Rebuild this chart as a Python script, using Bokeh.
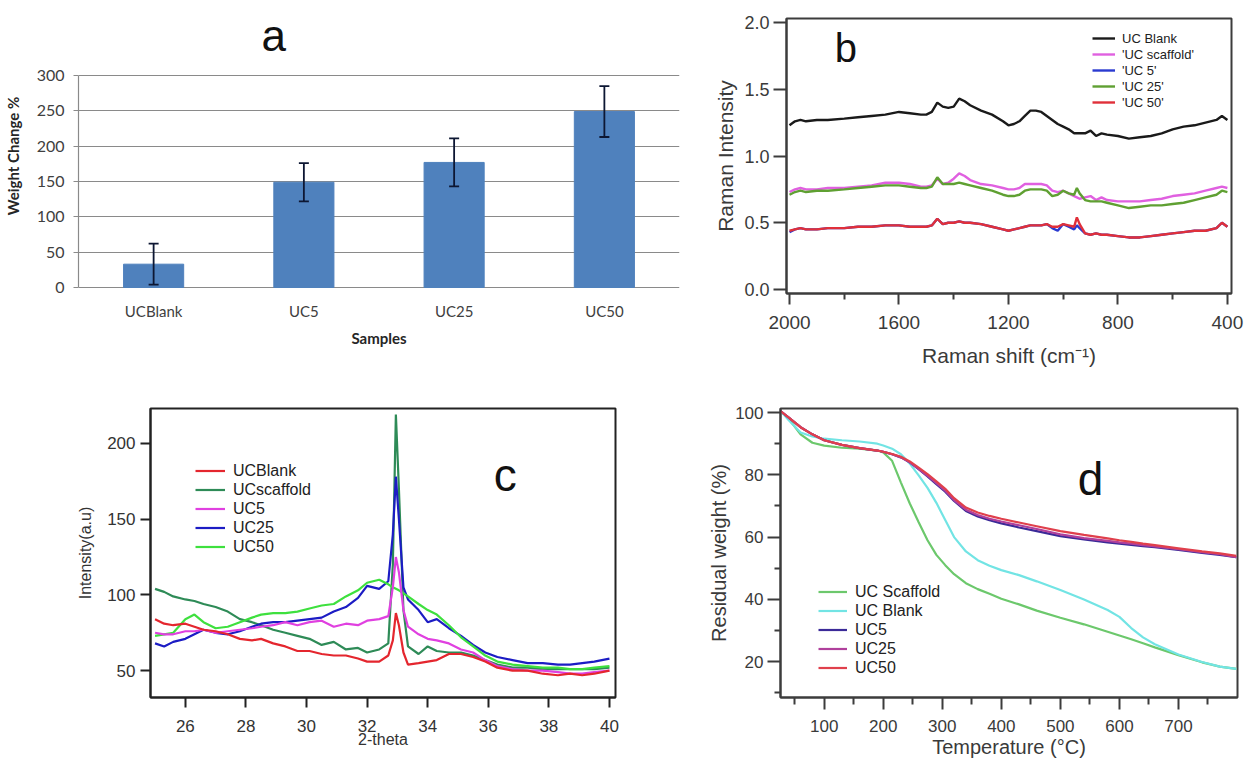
from bokeh.plotting import figure
from bokeh.models import (Range1d, FixedTicker, Whisker, TeeHead, ColumnDataSource,
                          Label, Legend, LegendItem, NumeralTickFormatter)
from bokeh.layouts import column, row
from bokeh.embed import file_html
from bokeh.resources import INLINE

# ---------------- data: panel a (swelling) ----------------
samples = ["UCBlank", "UC5", "UC25", "UC50"]
weight_change = [33, 149, 177, 249]
weight_err = [29, 27, 34, 36]

# ---------------- data: panel b (Raman) ----------------
raman_shift = [2000, 1980, 1960, 1940, 1900, 1860, 1800, 1750, 1700, 1650, 1600, 1560, 1520, 1500,
               1480, 1460, 1440, 1420, 1400, 1380, 1360, 1340, 1300, 1260, 1220, 1200, 1180, 1160,
               1140, 1120, 1100, 1080, 1060, 1040, 1020, 1000, 980, 960, 950, 940, 920, 900, 880,
               860, 840, 800, 760, 720, 680, 640, 600, 560, 520, 480, 440, 420, 400]
raman_blank = [1.23, 1.26, 1.27, 1.26, 1.27, 1.27, 1.28, 1.29, 1.30, 1.31, 1.33, 1.32, 1.31, 1.31,
               1.33, 1.40, 1.37, 1.36, 1.37, 1.43, 1.41, 1.38, 1.34, 1.31, 1.26, 1.23, 1.24, 1.26,
               1.30, 1.34, 1.34, 1.33, 1.30, 1.27, 1.24, 1.22, 1.20, 1.17, 1.17, 1.17, 1.17, 1.19,
               1.15, 1.17, 1.16, 1.15, 1.13, 1.14, 1.15, 1.17, 1.20, 1.22, 1.23, 1.25, 1.27, 1.30, 1.27]
raman_scaffold = [0.73, 0.75, 0.76, 0.75, 0.75, 0.76, 0.76, 0.77, 0.78, 0.80, 0.80, 0.79, 0.77, 0.77,
                  0.78, 0.83, 0.79, 0.80, 0.83, 0.87, 0.85, 0.82, 0.79, 0.78, 0.76, 0.75, 0.75, 0.76,
                  0.79, 0.79, 0.79, 0.79, 0.78, 0.74, 0.73, 0.74, 0.72, 0.70, 0.69, 0.68, 0.69, 0.70,
                  0.67, 0.69, 0.67, 0.66, 0.66, 0.66, 0.67, 0.68, 0.70, 0.71, 0.72, 0.74, 0.76, 0.77, 0.76]
raman_uc5 = [0.43, 0.45, 0.46, 0.45, 0.45, 0.46, 0.46, 0.47, 0.47, 0.48, 0.48, 0.47, 0.47, 0.47,
             0.48, 0.53, 0.49, 0.50, 0.50, 0.51, 0.50, 0.50, 0.49, 0.47, 0.45, 0.44, 0.45, 0.46,
             0.47, 0.48, 0.48, 0.48, 0.49, 0.46, 0.44, 0.49, 0.47, 0.45, 0.48, 0.46, 0.42, 0.41,
             0.42, 0.41, 0.41, 0.40, 0.39, 0.39, 0.40, 0.41, 0.42, 0.43, 0.44, 0.44, 0.46, 0.50, 0.47]
raman_uc25 = [0.71, 0.73, 0.74, 0.73, 0.74, 0.74, 0.75, 0.76, 0.77, 0.78, 0.78, 0.77, 0.76, 0.76,
              0.77, 0.84, 0.79, 0.79, 0.79, 0.80, 0.79, 0.78, 0.76, 0.74, 0.71, 0.70, 0.70, 0.71,
              0.74, 0.75, 0.75, 0.75, 0.74, 0.70, 0.71, 0.74, 0.72, 0.71, 0.76, 0.72, 0.67, 0.66,
              0.66, 0.66, 0.65, 0.63, 0.61, 0.62, 0.63, 0.63, 0.64, 0.65, 0.67, 0.69, 0.71, 0.74, 0.73]
raman_uc50 = [0.44, 0.45, 0.46, 0.45, 0.45, 0.46, 0.46, 0.47, 0.47, 0.48, 0.48, 0.47, 0.47, 0.47,
              0.48, 0.53, 0.49, 0.50, 0.50, 0.51, 0.50, 0.50, 0.49, 0.47, 0.45, 0.44, 0.45, 0.46,
              0.47, 0.48, 0.48, 0.48, 0.49, 0.47, 0.47, 0.49, 0.48, 0.47, 0.54, 0.49, 0.42, 0.41,
              0.42, 0.41, 0.41, 0.40, 0.39, 0.39, 0.40, 0.41, 0.42, 0.43, 0.44, 0.44, 0.46, 0.50, 0.47]

# ---------------- data: panel c (XRD) ----------------
two_theta = [25.0, 25.3, 25.6, 26.0, 26.3, 26.6, 27.0, 27.4, 27.8, 28.2, 28.5, 28.9, 29.3, 29.7,
             30.1, 30.5, 30.9, 31.3, 31.7, 32.0, 32.4, 32.7, 32.85, 32.95, 33.05, 33.2, 33.35,
             33.7, 34.0, 34.3, 34.7, 35.1, 35.5, 35.9, 36.3, 36.8, 37.3, 37.8, 38.3, 38.7, 39.1,
             39.5, 40.0]
xrd_blank = [84, 81, 80, 81, 79, 77, 76, 74, 71, 70, 71, 68, 66, 63, 63, 61, 60, 60, 58, 56, 56, 60,
             70, 88, 80, 62, 54, 55, 56, 57, 61, 61, 59, 56, 52, 50, 50, 48, 47, 48, 47, 48, 50]
xrd_scaffold = [104, 102, 99, 97, 96, 94, 92, 89, 84, 82, 80, 77, 75, 73, 71, 67, 69, 64, 65, 62, 64,
                68, 120, 219, 170, 90, 66, 61, 66, 63, 62, 62, 60, 57, 54, 52, 52, 51, 51, 51, 51, 51, 52]
xrd_uc5 = [75, 74, 74, 76, 76, 77, 75, 76, 77, 78, 79, 80, 82, 80, 82, 83, 79, 81, 80, 83, 84, 86,
           105, 125, 115, 90, 79, 74, 71, 70, 68, 64, 62, 57, 53, 51, 50, 50, 49, 48, 48, 49, 50]
xrd_uc25 = [68, 66, 69, 71, 74, 77, 75, 74, 76, 79, 81, 82, 82, 83, 84, 85, 89, 92, 98, 106, 104, 109,
            140, 178, 150, 105, 97, 90, 82, 84, 78, 73, 67, 62, 59, 57, 55, 55, 54, 54, 55, 56, 58]
xrd_uc50 = [73, 74, 75, 84, 87, 82, 78, 79, 82, 85, 87, 88, 88, 89, 91, 93, 94, 99, 103, 108, 110, 107,
            105, 104, 103, 101, 99, 94, 90, 87, 80, 72, 66, 60, 56, 54, 53, 52, 52, 51, 51, 52, 53]

# ---------------- data: panel d (TGA) ----------------
temperature = [26, 40, 60, 80, 100, 130, 160, 190, 200, 215, 230, 245, 260, 275, 290, 305, 320, 340,
               360, 380, 400, 430, 460, 500, 540, 580, 600, 620, 640, 660, 700, 740, 770, 798]
tga_scaffold = [100.5, 98.0, 93.0, 90.3, 89.4, 88.7, 88.4, 87.8, 87.2, 84.5, 77.5, 70.8, 64.8, 59.0,
                54.3, 51.0, 48.1, 45.2, 43.3, 41.8, 40.2, 38.4, 36.4, 34.1, 32.0, 29.6, 28.4, 27.2,
                25.9, 24.6, 22.1, 19.8, 18.4, 17.7]
tga_blank = [100.5, 97.5, 93.6, 92.3, 91.6, 91.1, 90.7, 90.0, 89.4, 88.4, 86.6, 83.6, 79.8, 75.8,
             71.0, 65.5, 60.0, 55.4, 52.6, 50.8, 49.4, 47.8, 45.8, 43.0, 40.0, 36.6, 34.4, 30.8,
             27.8, 25.6, 22.3, 19.9, 18.4, 17.7]
tga_uc5 = [100.5, 98.4, 95.3, 93.0, 91.1, 89.6, 88.6, 87.8, 87.4, 86.6, 85.6, 84.0, 81.8, 79.5,
           77.0, 74.6, 71.6, 68.4, 66.6, 65.4, 64.4, 63.1, 61.9, 60.3, 59.3, 58.3, 57.9, 57.5, 57.1,
           56.8, 55.9, 54.9, 54.3, 53.6]
tga_uc25 = [100.5, 98.4, 95.3, 93.0, 91.1, 89.6, 88.6, 87.8, 87.4, 86.6, 85.6, 84.0, 81.9, 79.7,
            77.3, 74.9, 71.9, 68.8, 67.1, 65.9, 65.0, 63.8, 62.6, 60.9, 59.7, 58.8, 58.3, 57.9, 57.4,
            57.0, 56.1, 55.2, 54.5, 53.6]
tga_uc50 = [100.5, 98.4, 95.3, 93.0, 91.1, 89.6, 88.6, 87.8, 87.4, 86.7, 85.8, 84.3, 82.3, 80.2,
            77.9, 75.5, 72.5, 69.5, 67.9, 66.8, 65.9, 64.7, 63.5, 61.9, 60.7, 59.6, 59.0, 58.5, 57.9,
            57.4, 56.4, 55.4, 54.8, 54.0]

SANS = "Liberation Sans"


def style_axes(p, size, color="#333333", line="#333333"):
    for ax in (p.xaxis[0], p.yaxis[0]):
        ax.major_label_text_font = SANS
        ax.major_label_text_font_size = size
        ax.major_label_text_color = color
        ax.axis_label_text_font = SANS
        ax.axis_label_text_font_style = "normal"
        ax.axis_label_text_color = color
        ax.axis_line_color = line
        ax.axis_line_width = 2
        ax.major_tick_line_color = line
        ax.minor_tick_line_color = line
        ax.major_tick_line_width = 2
        ax.minor_tick_line_width = 2
        ax.major_tick_in = 0
        ax.minor_tick_in = 0
    p.xgrid.visible = False
    p.ygrid.visible = False
    p.outline_line_color = line
    p.outline_line_width = 2
    p.outline_line_alpha = 1


def make_legend(items, loc, size, h, glyph_w, standoff):
    return Legend(items=items, location=loc, label_text_font=SANS, label_text_font_size=size,
                  label_text_color="#222222", glyph_width=glyph_w, glyph_height=h, label_height=h,
                  spacing=0, padding=0, margin=0, border_line_color=None,
                  background_fill_alpha=0, label_standoff=standoff)


# ================= panel a =================
x_pos = [i + 0.5 for i in range(len(samples))]
pa = figure(width=680, height=380, output_backend="svg", toolbar_location=None,
            x_range=Range1d(0, len(samples)), y_range=Range1d(-8.5, 380.7),
            min_border_left=77, min_border_right=1, min_border_top=18, min_border_bottom=87)
pa.vbar(x=x_pos, top=weight_change, width=0.4, fill_color="#4F81BD", line_color="#4F81BD")
err_src = ColumnDataSource(dict(x=x_pos,
                                upper=[v + e for v, e in zip(weight_change, weight_err)],
                                lower=[v - e for v, e in zip(weight_change, weight_err)]))
pa.add_layout(Whisker(source=err_src, base="x", upper="upper", lower="lower", level="overlay",
                      line_color="#0d1733", line_width=1.8,
                      upper_head=TeeHead(size=10, line_color="#0d1733", line_width=1.8),
                      lower_head=TeeHead(size=10, line_color="#0d1733", line_width=1.8)))
pa.outline_line_color = None
pa.xgrid.visible = False
pa.ygrid.ticker = FixedTicker(ticks=[0, 50, 100, 150, 200, 250, 300])
pa.ygrid.grid_line_color = "#8a8a8a"
pa.ygrid.grid_line_width = 1.2
pa.xaxis.ticker = FixedTicker(ticks=x_pos)
pa.xaxis.major_label_overrides = {x: s for x, s in zip(x_pos, samples)}
pa.yaxis.ticker = FixedTicker(ticks=[0, 50, 100, 150, 200, 250, 300])
pa.yaxis.bounds = (0, 300)
for ax in (pa.xaxis[0], pa.yaxis[0]):
    ax.major_label_text_font = "Lato"
    ax.major_label_text_color = "#404040"
    ax.axis_label_text_font = "Lato"
    ax.axis_label_text_font_style = "bold"
    ax.axis_label_text_font_size = "15px"
    ax.axis_label_text_color = "#262626"
    ax.axis_line_color = "#8a8a8a"
    ax.axis_line_width = 1.2
    ax.major_tick_line_color = "#8a8a8a"
    ax.minor_tick_line_color = None
    ax.major_tick_in = 0
pa.xaxis.axis_line_color = None
pa.xaxis.major_label_text_font_size = "15px"
pa.yaxis.major_label_text_font_size = "16px"
pa.xaxis.major_tick_line_color = None
pa.xaxis.major_tick_out = 0
pa.xaxis.major_label_standoff = 8
pa.xaxis.axis_label = "Samples"
pa.xaxis.axis_label_standoff = 6
pa.yaxis.major_tick_out = 5
pa.yaxis.major_label_standoff = 9
pa.yaxis.axis_label = "Weight Change %"
pa.yaxis.axis_label_standoff = 12
pa.add_layout(Label(x=1.3, y=357, text="a", text_font=SANS, text_font_size="44px",
                    text_align="center", text_baseline="alphabetic", text_color="#111111"))

# ================= panel b =================
pb = figure(width=565, height=380, output_backend="svg", toolbar_location=None,
            x_range=Range1d(2011, 385), y_range=Range1d(-0.03, 2.03),
            min_border_left=106, min_border_right=14, min_border_top=18, min_border_bottom=87)
rb_blank = pb.line(raman_shift, raman_blank, line_color="#1a1a1a", line_width=2.4)
rb_scaf = pb.line(raman_shift, raman_scaffold, line_color="#e060e0", line_width=2.4)
rb_25 = pb.line(raman_shift, raman_uc25, line_color="#5fa032", line_width=2.4)
rb_5 = pb.line(raman_shift, raman_uc5, line_color="#2a3ad0", line_width=2.4)
rb_50 = pb.line(raman_shift, raman_uc50, line_color="#e0303a", line_width=2.4)
style_axes(pb, "18px", color="#3a3a3a", line="#3c3c3c")
pb.xaxis.ticker = FixedTicker(ticks=[2000, 1600, 1200, 800, 400], minor_ticks=[1800, 1400, 1000, 600])
pb.xaxis.major_tick_out = 11
pb.xaxis.minor_tick_out = 6
pb.xaxis.major_label_text_font_size = "19px"
pb.xaxis.major_label_standoff = 11
pb.xaxis.axis_label = "Raman shift (cm\u207b\u00b9)"
pb.xaxis.axis_label_text_font_size = "21px"
pb.xaxis.axis_label_standoff = 12
pb.yaxis.ticker = FixedTicker(ticks=[0, 0.5, 1.0, 1.5, 2.0])
pb.yaxis.formatter = NumeralTickFormatter(format="0.0")
pb.yaxis.major_tick_out = 13
pb.yaxis.major_label_standoff = 4
pb.yaxis.axis_label = "Raman Intensity"
pb.yaxis.axis_label_text_font_size = "21px"
pb.yaxis.axis_label_standoff = 4
pb.add_layout(make_legend([LegendItem(label="UC Blank", renderers=[rb_blank]),
                           LegendItem(label="'UC scaffold'", renderers=[rb_scaf]),
                           LegendItem(label="'UC 5'", renderers=[rb_5]),
                           LegendItem(label="'UC 25'", renderers=[rb_25]),
                           LegendItem(label="'UC 50'", renderers=[rb_50])],
                          (306, 183), "13px", 16, 23, 7))
pb.add_layout(Label(x=1794, y=1.81, text="b", text_font=SANS, text_font_size="40px",
                    text_align="center", text_baseline="alphabetic", text_color="#111111"))

# ================= panel c =================
pc = figure(width=680, height=380, output_backend="svg", toolbar_location=None,
            x_range=Range1d(24.85, 40.2), y_range=Range1d(32.3, 223),
            min_border_left=150, min_border_right=65, min_border_top=28, min_border_bottom=61)
rc_scaf = pc.line(two_theta, xrd_scaffold, line_color="#2e8b57", line_width=2.2)
rc_25 = pc.line(two_theta, xrd_uc25, line_color="#1c1cc4", line_width=2.2)
rc_50 = pc.line(two_theta, xrd_uc50, line_color="#3ee03e", line_width=2.2)
rc_5 = pc.line(two_theta, xrd_uc5, line_color="#e040e0", line_width=2.2)
rc_blank = pc.line(two_theta, xrd_blank, line_color="#e4262e", line_width=2.2)
style_axes(pc, "17px", color="#333333", line="#222222")
pc.xaxis.ticker = FixedTicker(ticks=[26, 28, 30, 32, 34, 36, 38, 40])
pc.yaxis.ticker = FixedTicker(ticks=[50, 100, 150, 200])
pc.xaxis.major_tick_out = 10
pc.yaxis.major_tick_out = 10
pc.xaxis.major_label_standoff = 12
pc.yaxis.major_label_standoff = 5
pc.xaxis.axis_label = "2-theta"
pc.xaxis.axis_label_text_font_size = "16px"
pc.xaxis.axis_label_standoff = -4
pc.yaxis.axis_label = "Intensity(a.u)"
pc.yaxis.axis_label_text_font_size = "16px"
pc.yaxis.axis_label_standoff = 10
pc.add_layout(make_legend([LegendItem(label="UCBlank", renderers=[rc_blank]),
                           LegendItem(label="UCscaffold", renderers=[rc_scaf]),
                           LegendItem(label="UC5", renderers=[rc_5]),
                           LegendItem(label="UC25", renderers=[rc_25]),
                           LegendItem(label="UC50", renderers=[rc_50])],
                          (45, 141), "16px", 19, 30, 8))
pc.add_layout(Label(x=36.56, y=179, text="c", text_font=SANS, text_font_size="46px",
                    text_align="center", text_baseline="alphabetic", text_color="#111111"))

# ================= panel d =================
pd = figure(width=565, height=380, output_backend="svg", toolbar_location=None,
            x_range=Range1d(26, 800), y_range=Range1d(8.5, 101.3),
            min_border_left=100, min_border_right=8, min_border_top=28, min_border_bottom=61)
rd_scaf = pd.line(temperature, tga_scaffold, line_color="#6cc86c", line_width=2.2)
rd_blank = pd.line(temperature, tga_blank, line_color="#72e4e4", line_width=2.2)
rd_5 = pd.line(temperature, tga_uc5, line_color="#3b2a98", line_width=2.2)
rd_25 = pd.line(temperature, tga_uc25, line_color="#b0409c", line_width=2.2)
rd_50 = pd.line(temperature, tga_uc50, line_color="#e0404c", line_width=2.2)
style_axes(pd, "17px", color="#3a3a3a", line="#3c3c3c")
pd.xaxis.ticker = FixedTicker(ticks=[100, 200, 300, 400, 500, 600, 700],
                              minor_ticks=[50, 150, 250, 350, 450, 550, 650, 750])
pd.yaxis.ticker = FixedTicker(ticks=[20, 40, 60, 80, 100], minor_ticks=[10, 30, 50, 70, 90])
pd.xaxis.major_tick_out = 12
pd.xaxis.minor_tick_out = 7
pd.yaxis.major_tick_out = 13
pd.yaxis.minor_tick_out = 6
pd.xaxis.major_label_standoff = 10
pd.yaxis.major_label_standoff = 4
pd.xaxis.axis_label = "Temperature (\u00b0C)"
pd.xaxis.axis_label_text_font_size = "20px"
pd.xaxis.axis_label_standoff = 1
pd.yaxis.axis_label = "Residual weight (%)"
pd.yaxis.axis_label_text_font_size = "20px"
pd.yaxis.axis_label_standoff = 2
pd.add_layout(make_legend([LegendItem(label="UC Scaffold", renderers=[rd_scaf]),
                           LegendItem(label="UC Blank", renderers=[rd_blank]),
                           LegendItem(label="UC5", renderers=[rd_5]),
                           LegendItem(label="UC25", renderers=[rd_25]),
                           LegendItem(label="UC50", renderers=[rd_50])],
                          (38, 20), "16px", 19, 29, 8))
pd.add_layout(Label(x=551, y=78.8, text="d", text_font=SANS, text_font_size="46px",
                    text_align="center", text_baseline="alphabetic", text_color="#111111"))

layout = column(row(pa, pb), row(pc, pd))
open("out.html", "w").write(file_html(layout, INLINE))
